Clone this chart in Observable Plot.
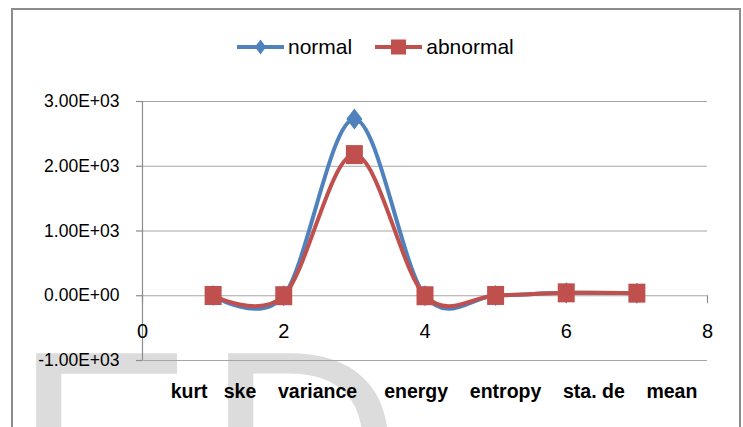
<!DOCTYPE html>
<html>
<head>
<meta charset="utf-8">
<script src="https://cdn.jsdelivr.net/npm/d3@7"></script>
<script src="https://cdn.jsdelivr.net/npm/@observablehq/plot@0.6"></script>
<style>
  html, body { margin: 0; padding: 0; background: #fff; }
  #wrap { position: relative; width: 743px; height: 427px; overflow: hidden;
          font-family: "Liberation Sans", Arial, sans-serif; }
  #frame { position: absolute; left: 11px; top: 8px; width: 730px; height: 460px;
           border: 2px solid #8c8c8c; box-sizing: border-box; }
  .wm { position: absolute; top: 311px; font-size: 270px; line-height: 1; color: #dcdcdc;
        font-family: "Liberation Sans", Arial, sans-serif; }
  #chart { position: absolute; left: 0; top: 0; }
  #legend { position: absolute; top: 36px; left: 237px; height: 22px; display: flex;
            align-items: center; font-size: 21px; color: #000; white-space: nowrap; }
  #legend .item { display: flex; align-items: center; margin-right: 23px; }
  #legend svg { display: block; margin-right: 4px; }
</style>
</head>
<body>
<div id="wrap">
  <div id="frame"></div>
  <div class="wm" style="left:14px">E</div>
  <div class="wm" style="left:206px">D</div>
  <div id="chart"></div>
  <div id="legend"></div>
</div>
<script>
// ---- data ----
const categories = ["kurt", "ske", "variance", "energy", "entropy", "sta. de", "mean"];
const xPositions = [1, 2, 3, 4, 5, 6, 7];
const normalValues = [3.2, 0.5, 2730, 0.4, 4.9, 45, 40];
const abnormalValues = [3.6, 0.7, 2180, 0.3, 4.6, 45, 40];
const seriesNames = ["normal", "abnormal"];
const seriesColors = ["#4F81BD", "#C0504D"];
const yTicks = [-1000, 0, 1000, 2000, 3000];
const xTicks = [0, 2, 4, 6, 8];
const titleGaps = [3, 4, 5, 4, 4, 4];

const rows = xPositions.map((x, i) => ({x, normal: normalValues[i], abnormal: abnormalValues[i], category: categories[i]}));
const axisTitle = categories.map((c, i) => c + (i < titleGaps.length ? "\u00a0".repeat(titleGaps[i]) : "")).join("");

function fmt(d) {
  const [m, e] = d.toExponential(2).split("e");
  const sign = e[0] === "-" ? "-" : "+";
  const digits = e.replace(/^[+-]/, "").padStart(2, "0");
  return m + "E" + sign + digits;
}

const diamondSym = { draw(ctx) { ctx.moveTo(0, -10.5); ctx.lineTo(8, 0); ctx.lineTo(0, 10.5); ctx.lineTo(-8, 0); ctx.closePath(); } };
const rectSym = { draw(ctx) { ctx.rect(-8.5, -9.5, 17, 19); } };
const symbols = [diamondSym, rectSym];

const gray = "#8c8c8c";
const chart = Plot.plot({
  width: 743, height: 427,
  marginLeft: 142, marginRight: 36, marginTop: 101, marginBottom: 67,
  x: { domain: [0, 8], axis: null },
  y: { domain: [-1000, 3000] },
  style: { background: "transparent", fontFamily: "'Liberation Sans', Arial, sans-serif", color: "#000", overflow: "visible" },
  marks: [
    Plot.ruleY(yTicks, { stroke: "#a6a6a6", strokeWidth: 1.2 }),
    Plot.ruleX([0], { stroke: gray, strokeWidth: 1.2 }),
    Plot.ruleY(yTicks, { x1: 0, x2: 0, insetLeft: -6, stroke: gray, strokeWidth: 1.2 }),
    Plot.ruleX(xTicks, { y1: 0, y2: 0, insetBottom: -8, stroke: gray, strokeWidth: 1.2 }),
    Plot.axisY({ ticks: yTicks, tickFormat: fmt, tickSize: 0, tickPadding: 23, fontSize: 17.5, fill: "#000" }),
    Plot.text(xTicks, { x: d => d, y: 0, text: d => String(d), dy: 28, lineAnchor: "top", fontSize: 20, fill: "#000" }),
    Plot.line(rows, { x: "x", y: "normal", curve: "cardinal", stroke: seriesColors[0], strokeWidth: 4 }),
    Plot.dot(rows, { x: "x", y: "normal", symbol: symbols[0], fill: seriesColors[0], stroke: "none" }),
    Plot.line(rows, { x: "x", y: "abnormal", curve: "cardinal", stroke: seriesColors[1], strokeWidth: 4 }),
    Plot.dot(rows, { x: "x", y: "abnormal", symbol: symbols[1], fill: seriesColors[1], stroke: "none" }),
    Plot.text([axisTitle], { frameAnchor: "bottom", text: d => d, dy: 37, dx: 9, fontWeight: "bold", fontSize: 19.5, fill: "#000" })
  ]
});
document.getElementById("chart").appendChild(chart);

// legend
const legend = d3.select("#legend");
seriesNames.forEach((name, i) => {
  const item = legend.append("div").attr("class", "item");
  const svg = item.append("svg").attr("width", 47).attr("height", 22);
  svg.append("line").attr("x1", 0).attr("x2", 47).attr("y1", 11).attr("y2", 11)
     .attr("stroke", seriesColors[i]).attr("stroke-width", 4);
  if (i === 0) {
    svg.append("path").attr("d", "M23.5,3.5L29,11L23.5,18.5L18,11Z").attr("fill", seriesColors[i]);
  } else {
    svg.append("rect").attr("x", 16).attr("y", 3.5).attr("width", 15).attr("height", 15).attr("fill", seriesColors[i]);
  }
  item.append("span").text(name);
});
</script>
</body>
</html>
